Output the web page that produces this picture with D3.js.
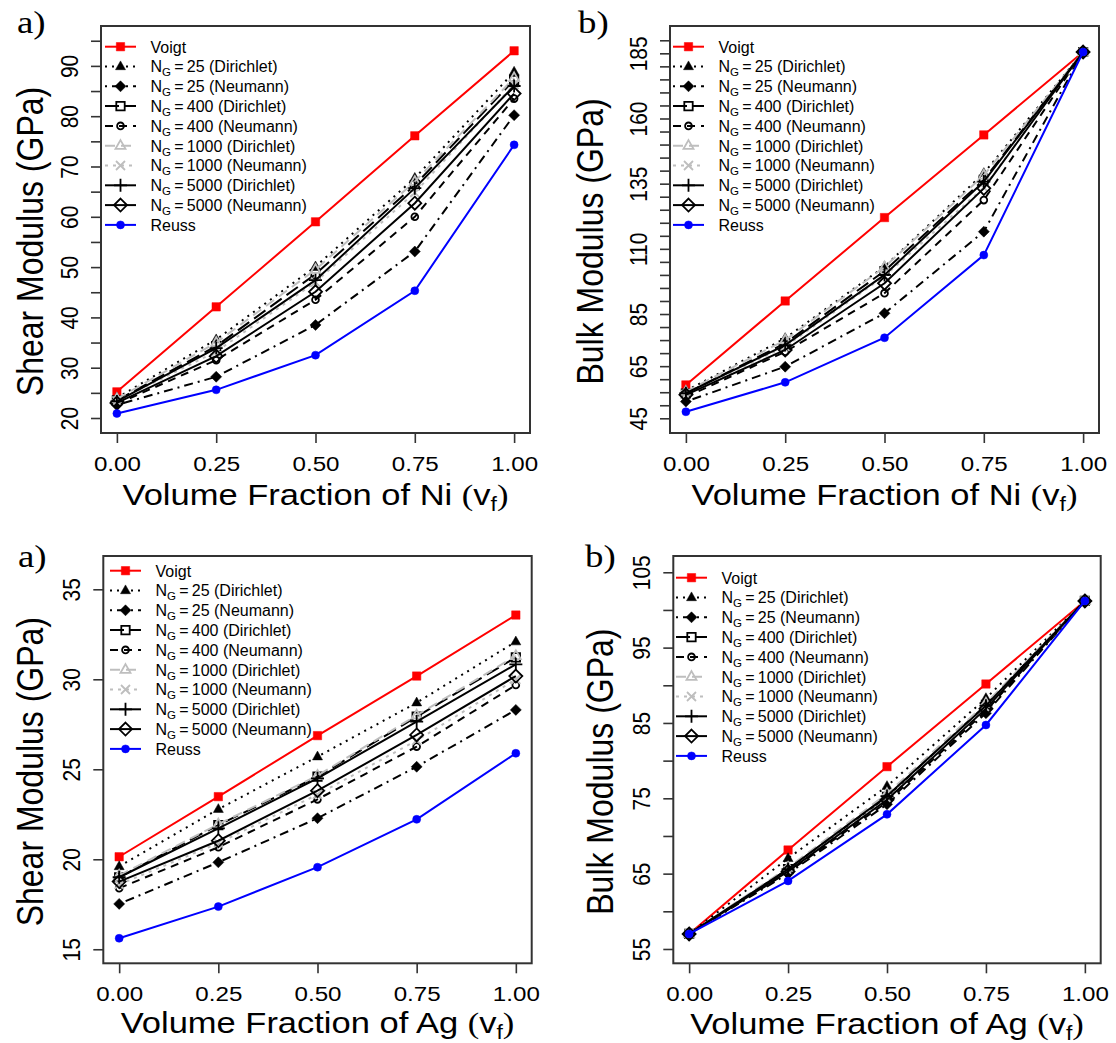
<!DOCTYPE html>
<html>
<head>
<meta charset="utf-8">
<script src="https://cdn.jsdelivr.net/npm/d3@7"></script>
<style>
body { margin: 0; background: #fff; }
svg text { font-family: "Liberation Sans", Arial, sans-serif; fill: #000; }
</style>
</head>
<body>
<svg id="chart" width="1116" height="1043"></svg>
<script>
// volume fraction (x values) and tick values
var vf = [0, 0.25, 0.5, 0.75, 1];
var xTicks = [0, 0.25, 0.5, 0.75, 1];

// legend labels, same order as the rows of every value table below
var seriesLabels = ["Voigt", "25 (Dirichlet)", "25 (Neumann)", "400 (Dirichlet)", "400 (Neumann)",
	"1000 (Dirichlet)", "1000 (Neumann)", "5000 (Dirichlet)", "5000 (Neumann)", "Reuss"];

// a) shear modulus, Ni (GPa)
var niShear = [
	[25.2, 42.1, 59.0, 76.1, 93.0],
	[24.0, 35.6, 50.1, 67.7, 88.8],
	[22.6, 28.2, 38.5, 53.1, 80.2],
	[23.5, 34.3, 48.6, 66.3, 87.2],
	[22.8, 31.5, 43.5, 60.0, 83.5],
	[23.8, 35.0, 49.5, 67.0, 87.6],
	[23.4, 33.2, 47.0, 64.8, 86.3],
	[23.3, 33.9, 47.4, 65.7, 86.0],
	[23.0, 32.3, 45.1, 62.7, 84.5],
	[20.9, 25.6, 32.5, 45.3, 74.3]
];
// b) bulk modulus, Ni (GPa)
var niBulk = [
	[57.8, 90.0, 122.0, 153.7, 185.5],
	[55.5, 75.7, 103.2, 139.0, 185.5],
	[51.4, 64.8, 85.3, 116.6, 185.5],
	[54.5, 73.8, 101.5, 136.5, 185.5],
	[53.2, 70.5, 93.0, 128.7, 185.5],
	[55.2, 75.0, 103.0, 138.2, 185.5],
	[54.2, 72.5, 99.5, 133.5, 185.5],
	[54.6, 73.1, 100.0, 135.8, 185.5],
	[54.0, 71.2, 96.8, 133.2, 185.5],
	[47.5, 58.8, 75.9, 107.6, 185.5]
];
// a) shear modulus, Ag (GPa)
var agShear = [
	[20.14, 23.48, 26.87, 30.18, 33.57],
	[19.6, 22.78, 25.7, 28.7, 32.09],
	[17.52, 19.83, 22.28, 25.14, 28.3],
	[19.0, 21.9, 24.59, 27.92, 31.22],
	[18.39, 20.67, 23.33, 26.26, 29.68],
	[19.1, 21.95, 24.65, 28.0, 31.3],
	[18.6, 20.9, 23.6, 26.6, 30.0],
	[19.0, 21.72, 24.5, 27.65, 30.83],
	[18.76, 21.03, 23.81, 26.91, 30.18],
	[15.61, 17.37, 19.56, 22.22, 25.89]
];
// b) bulk modulus, Ag (GPa)
var agBulk = [
	[57.0, 68.14, 79.2, 90.17, 101.2],
	[57.0, 67.03, 76.6, 88.27, 101.2],
	[57.0, 65.0, 74.2, 86.3, 101.2],
	[57.0, 65.6, 75.2, 87.4, 101.2],
	[57.0, 65.2, 74.5, 86.6, 101.2],
	[57.0, 65.8, 75.6, 87.6, 101.2],
	[57.0, 65.4, 75.0, 87.0, 101.2],
	[57.0, 65.6, 75.3, 87.3, 101.2],
	[57.0, 65.3, 74.8, 86.9, 101.2],
	[57.0, 64.03, 72.87, 84.73, 101.2]
];

// y ticks (every tick) and the ones that get a label
var niShearTicks = d3.range(20, 96, 5);
var niShearLabels = [20, 30, 40, 50, 60, 70, 80, 90];
var niBulkTicks = d3.range(45, 191, 5);
var niBulkLabels = [45, 65, 85, 110, 135, 160, 185];
var agShearTicks = [15, 20, 25, 30, 35];
var agShearLabels = [15, 20, 25, 30, 35];
var agBulkTicks = d3.range(55, 106, 5);
var agBulkLabels = [55, 65, 75, 85, 95, 105];

var styles = [
	{ color: "#ff0000", dash: null,       shape: "sqf" },
	{ color: "#000",    dash: "2,5",      shape: "trif" },
	{ color: "#000",    dash: "2,5,9,5",  shape: "diaf" },
	{ color: "#000",    dash: "14,6",     shape: "sq" },
	{ color: "#000",    dash: "8,6",      shape: "circ" },
	{ color: "#bebebe", dash: "10,6",     shape: "tri" },
	{ color: "#bebebe", dash: "3,5",      shape: "x" },
	{ color: "#000",    dash: null,       shape: "plus" },
	{ color: "#000",    dash: null,       shape: "dia" },
	{ color: "#0000ff", dash: null,       shape: "circf" }
];

var svg = d3.select("#chart");
var STRETCH = 1.15;

function markerPath(shape) {
	switch (shape) {
		case "sqf": case "sq": return "M-4.2,-4.2H4.2V4.2H-4.2Z";
		case "trif": case "tri": return "M0,-5.6L5,3.2H-5Z";
		case "diaf": return "M0,-5.5L5.5,0L0,5.5L-5.5,0Z";
		case "dia": return "M0,-6.5L6.5,0L0,6.5L-6.5,0Z";
		case "circ": return "M3.4,0A3.4,3.4 0 1,1 -3.4,0A3.4,3.4 0 1,1 3.4,0Z";
		case "circf": return "M4,0A4,4 0 1,1 -4,0A4,4 0 1,1 4,0Z";
		case "x": return "M-4.5,-4.5L4.5,4.5M-4.5,4.5L4.5,-4.5";
		case "plus": return "M-6.5,0H6.5M0,-6.5V6.5";
	}
}

function drawMarker(g, st, px, py) {
	var filled = ["sqf", "trif", "diaf", "circf"].indexOf(st.shape) >= 0;
	g.append("path")
		.attr("d", markerPath(st.shape))
		.attr("transform", "translate(" + px + "," + py + ")")
		.attr("fill", filled ? st.color : "none")
		.attr("stroke", st.color)
		.attr("stroke-width", filled ? 0.5 : 1.8);
}

function drawPanel(p) {
	var g = svg.append("g");
	var x = d3.scaleLinear().domain([-0.04, 1.04]).range([p.left, p.right]);
	var y = d3.scaleLinear().domain(p.yDomain).range([p.bottom, p.top]);

	// x axis
	var xa = g.append("g")
		.attr("transform", "translate(0," + p.bottom + ")")
		.call(d3.axisBottom(x).tickValues(xTicks).tickSize(10).tickSizeOuter(0).tickFormat(d3.format(".2f")));
	xa.select(".domain").remove();
	xa.selectAll("line").attr("stroke", "#333").attr("stroke-width", 1.6);
	xa.selectAll("text")
		.attr("y", null).attr("dy", null)
		.attr("transform", "translate(0,37.5) scale(" + STRETCH + ",1)")
		.style("font-size", "21px").style("font-family", "Liberation Sans, Arial, sans-serif");

	// y axis
	var ya = g.append("g")
		.attr("transform", "translate(" + p.left + ",0)")
		.call(d3.axisLeft(y).tickValues(p.ticks).tickSize(10).tickSizeOuter(0)
			.tickFormat(function(d) { return p.labels.indexOf(d) >= 0 ? d : ""; }));
	ya.select(".domain").remove();
	ya.selectAll("line").attr("stroke", "#333").attr("stroke-width", 1.6);
	ya.selectAll("text")
		.attr("x", null).attr("dy", null)
		.attr("text-anchor", "middle")
		.attr("transform", "translate(-23.5,0) scale(" + STRETCH + ",1) rotate(-90)")
		.style("font-size", "21px").style("font-family", "Liberation Sans, Arial, sans-serif");

	// series lines then markers
	var line = d3.line()
		.x(function(d, i) { return x(vf[i]); })
		.y(function(d) { return y(d); });

	p.values.forEach(function(vals, k) {
		var st = styles[k];
		g.append("path")
			.attr("d", line(vals))
			.attr("fill", "none")
			.attr("stroke", st.color)
			.attr("stroke-width", 2)
			.attr("stroke-dasharray", st.dash);
		vals.forEach(function(v, i) { drawMarker(g, st, x(vf[i]), y(v)); });
	});

	// box
	g.append("rect")
		.attr("x", p.left).attr("y", p.top)
		.attr("width", p.right - p.left).attr("height", p.bottom - p.top)
		.attr("fill", "none").attr("stroke", "#333").attr("stroke-width", 2);

	// legend
	var lg = g.append("g");
	seriesLabels.forEach(function(lab, k) {
		var st = styles[k], ly = p.legTop + k * 19.8;
		lg.append("line")
			.attr("x1", p.legX).attr("x2", p.legX + 31)
			.attr("y1", ly).attr("y2", ly)
			.attr("stroke", st.color).attr("stroke-width", 2)
			.attr("stroke-dasharray", st.dash);
		drawMarker(lg, st, p.legX + 15.5, ly);
		var t = lg.append("text")
			.attr("x", p.legX + 45.5).attr("y", ly + 5.8)
			.style("font-size", "16px");
		if (/^\d/.test(lab)) {
			t.append("tspan").text("N");
			t.append("tspan").attr("dy", 4).style("font-size", "11.5px").text("G");
			t.append("tspan").attr("dy", -4).text("\u2009=\u2009" + lab);
		} else {
			t.text(lab);
		}
	});

	// axis titles
	var cx = (p.left + p.right) / 2;
	var xt = g.append("text")
		.attr("text-anchor", "middle")
		.attr("transform", "translate(" + cx + "," + p.xTitleY + ") scale(" + STRETCH + ",1)")
		.style("font-size", "30px");
	xt.append("tspan").text("Volume Fraction of " + p.element + " ");
	xt.append("tspan").style("font-family", "Liberation Serif, serif").text("(");
	xt.append("tspan").text("v");
	xt.append("tspan").attr("dy", 6).style("font-size", "20px").text("f");
	xt.append("tspan").attr("dy", -6).style("font-family", "Liberation Serif, serif").text(")");

	g.append("text")
		.attr("text-anchor", "middle")
		.attr("transform", "translate(" + p.yTitleX + "," + ((p.top + p.bottom) / 2 + 12) + ") scale(" + STRETCH + ",1) rotate(-90)")
		.style("font-size", "32px")
		.text(p.yTitle);

	// panel tag
	g.append("text")
		.attr("transform", "translate(" + p.tagX + "," + p.tagY + ") scale(" + STRETCH + ",1)")
		.style("font-family", "Liberation Serif, serif")
		.style("font-size", "32px")
		.text(p.tag);
}

drawPanel({ values: niShear, ticks: niShearTicks, labels: niShearLabels,
	left: 101, right: 530, top: 26, bottom: 433, yDomain: [17.02, 97.93],
	legX: 105, legTop: 46.7, xTitleY: 505, yTitleX: 43, tagX: 17, tagY: 33,
	element: "Ni", yTitle: "Shear Modulus (GPa)", tag: "a)" });

drawPanel({ values: niBulk, ticks: niBulkTicks, labels: niBulkLabels,
	left: 670, right: 1099, top: 26, bottom: 433, yDomain: [39.36, 195.48],
	legX: 673, legTop: 46.7, xTitleY: 505, yTitleX: 603, tagX: 578, tagY: 33,
	element: "Ni", yTitle: "Bulk Modulus (GPa)", tag: "b)" });

drawPanel({ values: agShear, ticks: agShearTicks, labels: agShearLabels,
	left: 103.3, right: 531.7, top: 556, bottom: 963.3, yDomain: [14.22, 36.85],
	legX: 110, legTop: 570.7, xTitleY: 1033, yTitleX: 43, tagX: 18, tagY: 567,
	element: "Ag", yTitle: "Shear Modulus (GPa)", tag: "a)" });

drawPanel({ values: agBulk, ticks: agBulkTicks, labels: agBulkLabels,
	left: 673.3, right: 1100.7, top: 556, bottom: 963.3, yDomain: [53.1, 107.16],
	legX: 676, legTop: 577.7, xTitleY: 1033.5, yTitleX: 613, tagX: 585, tagY: 567,
	element: "Ag", yTitle: "Bulk Modulus (GPa)", tag: "b)" });
</script>
</body>
</html>
